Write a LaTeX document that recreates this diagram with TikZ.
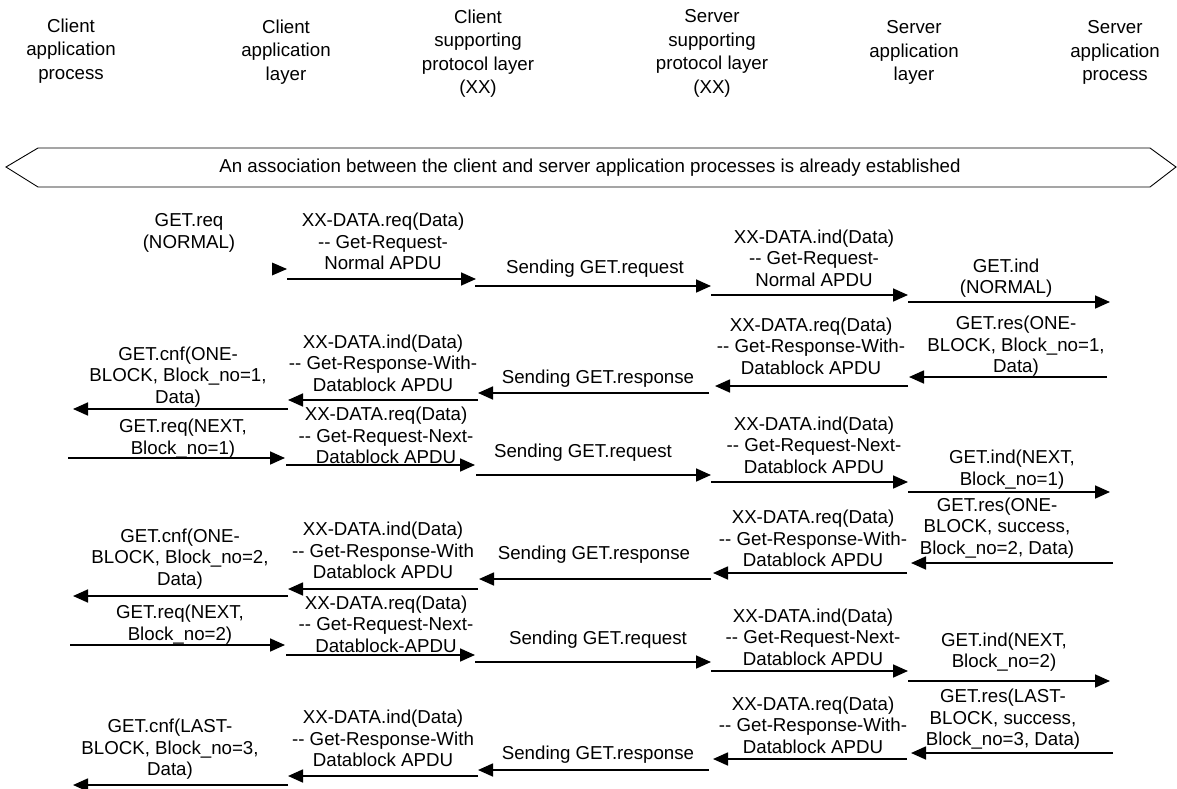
\documentclass[tikz,border=0pt]{standalone}
\usepackage{fontspec}
\setmainfont{Liberation Sans}
\usetikzlibrary{arrows.meta}
\begin{document}
\begin{tikzpicture}[x=1pt,y=-1pt,
  head/.style={align=center, inner sep=0pt, font=\fontsize{18.7pt}{23.5pt}\selectfont},
  lbl/.style={align=center, inner sep=0pt, font=\fontsize{18.7pt}{21.5pt}\selectfont},
  msg/.style={line width=1.7pt, -{Triangle[length=15pt,width=13pt]}},
  banner/.style={line width=0.9pt}]
\useasboundingbox (0,0) rectangle (1177,789);

% column headings
\node[head] (h1) at (71,51)    {Client\\application\\process};
\node[head] (h2) at (286,52)   {Client\\application\\layer};
\node[head] (h3) at (478,53.5) {Client\\supporting\\protocol layer\\(XX)};
\node[head] (h4) at (712,53.5) {Server\\supporting\\protocol layer\\(XX)};
\node[head] (h5) at (914,52.5) {Server\\application\\layer};
\node[head] (h6) at (1115,52.5){Server\\application\\process};

% association banner
\draw[banner] (6,167) -- (38,148) -- (1150,148) -- (1176,167) -- (1150,187) -- (38,187) -- cycle;
\node[lbl] (assoc) at (590,168) {An association between the client and server application processes is already established};

% message arrows: name / start x / end x / y
\foreach \n/\xa/\xb/\y in {
  b1/287/476/279, c1/475/711/286, d1/711/908/295, e1/908/1110/302,
  e2/1107/909/377, d2/908/715/386, c2/709/478/393, b2/478/288/400, a2/288/73/409,
  a3/68/285/458, b3/286/475/465, c3/476/711/475, d3/711/908/482, e3/908/1110/492,
  e4/1113/911/563, d4/907/713/573, c4/711/479/579, b4/478/288/589, a4/288/73/596,
  a5/70/285/645, b5/286/475/655, c5/475/711/662, d5/711/908/671, e5/908/1110/681,
  e6/1113/911/753, d6/907/713/759, c6/709/478/770, b6/478/288/776, a6/288/73/785}
{
  \coordinate (\n s) at (\xa,\y);
  \coordinate (\n e) at (\xb,\y);
  \draw[msg] (\n s) -- (\n e);
}

% arrowhead of the first GET.req
\coordinate (a1e) at (287,269);
\fill (a1e) -- ++(-15,-6.5) -- ++(0,13) -- cycle;

% row 1
\node[lbl] (l11) at (189,233)   {GET.req\\(NORMAL)};
\node[lbl] (l12) at (383,241.5) {XX-DATA.req(Data)\\-{}- Get-Request-\\Normal APDU};
\node[lbl] (l13) at (595,269)   {Sending GET.request};
\node[lbl] (l14) at (814,258)   {XX-DATA.ind(Data)\\-{}- Get-Request-\\Normal APDU};
\node[lbl] (l15) at (1006,278)  {GET.ind\\(NORMAL)};

% row 2
\node[lbl] (l21) at (178,377)   {GET.cnf(ONE-\\BLOCK, Block\_no=1,\\Data)};
\node[lbl] (l22) at (383,363)   {XX-DATA.ind(Data)\\-{}- Get-Response-With-\\Datablock APDU};
\node[lbl] (l23) at (598,379)   {Sending GET.response};
\node[lbl] (l24) at (811,346)   {XX-DATA.req(Data)\\-{}- Get-Response-With-\\Datablock APDU};
\node[lbl] (l25) at (1016,346.5){GET.res(ONE-\\BLOCK, Block\_no=1,\\Data)};

% row 3
\node[lbl] (l31) at (183,438.5) {GET.req(NEXT,\\Block\_no=1)};
\node[lbl] (l32) at (386,435.5) {XX-DATA.req(Data)\\-{}- Get-Request-Next-\\Datablock APDU};
\node[lbl] (l33) at (583,453)   {Sending GET.request};
\node[lbl] (l34) at (814,445)   {XX-DATA.ind(Data)\\-{}- Get-Request-Next-\\Datablock APDU};
\node[lbl] (l35) at (1012,469.5){GET.ind(NEXT,\\Block\_no=1)};

% row 4
\node[lbl] (l41) at (180,559)   {GET.cnf(ONE-\\BLOCK, Block\_no=2,\\Data)};
\node[lbl] (l42) at (383,550.5) {XX-DATA.ind(Data)\\-{}- Get-Response-With\\Datablock APDU};
\node[lbl] (l43) at (594,555)   {Sending GET.response};
\node[lbl] (l44) at (813,538.5) {XX-DATA.req(Data)\\-{}- Get-Response-With-\\Datablock APDU};
\node[lbl] (l45) at (997,528)   {GET.res(ONE-\\BLOCK, success,\\Block\_no=2, Data)};

% row 5
\node[lbl] (l51) at (180,624.5) {GET.req(NEXT,\\Block\_no=2)};
\node[lbl] (l52) at (386,624)   {XX-DATA.req(Data)\\-{}- Get-Request-Next-\\Datablock-APDU};
\node[lbl] (l53) at (598,640)   {Sending GET.request};
\node[lbl] (l54) at (813,637)   {XX-DATA.ind(Data)\\-{}- Get-Request-Next-\\Datablock APDU};
\node[lbl] (l55) at (1004,652)  {GET.ind(NEXT,\\Block\_no=2)};

% row 6
\node[lbl] (l61) at (170,749.5) {GET.cnf(LAST-\\BLOCK, Block\_no=3,\\Data)};
\node[lbl] (l62) at (383,738.5) {XX-DATA.ind(Data)\\-{}- Get-Response-With\\Datablock APDU};
\node[lbl] (l63) at (598,755)   {Sending GET.response};
\node[lbl] (l64) at (813,725)   {XX-DATA.req(Data)\\-{}- Get-Response-With-\\Datablock APDU};
\node[lbl] (l65) at (1003,719.5){GET.res(LAST-\\BLOCK, success,\\Block\_no=3, Data)};
\end{tikzpicture}
\end{document}
